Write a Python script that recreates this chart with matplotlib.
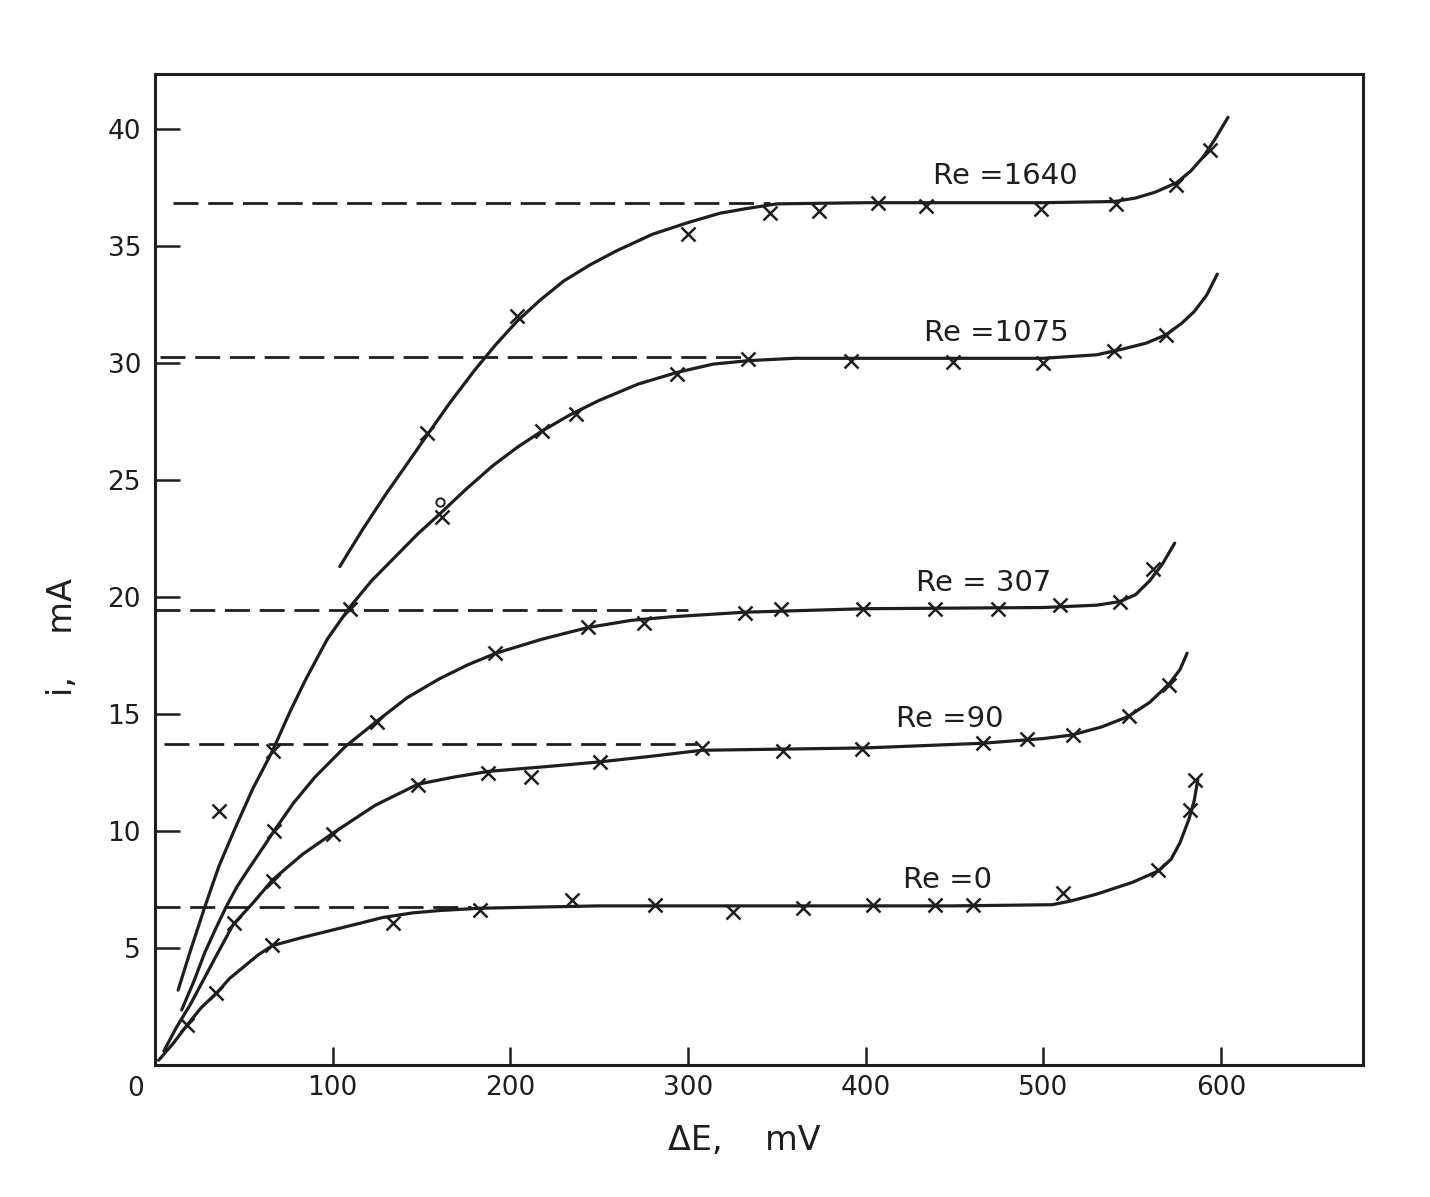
import matplotlib
matplotlib.use("Agg")
import matplotlib.pyplot as plt

# ---------------- data ----------------
re_labels = ["Re =1640", "Re =1075", "Re = 307", "Re =90", "Re =0"]

# limiting-current levels (dashed lines), mA, and their x extent (mV)
limit_levels = [36.85, 30.25, 19.45, 13.7, 6.75]
limit_x_start = [10, 3, 0, 5, 0]
limit_x_end = [346, 334, 300, 305, 178]

# hand-drawn smooth curves (x mV, i mA)
c1640_x = [104, 117, 130, 142, 153, 166, 180, 192, 204, 217, 230, 245, 260, 280, 300, 318, 333, 350,
           400, 450, 500, 540, 552, 563, 575, 583, 590, 597, 604]
c1640_y = [21.3, 22.9, 24.4, 25.7, 26.9, 28.3, 29.7, 30.8, 31.8, 32.7, 33.5, 34.2, 34.8, 35.5, 36.0, 36.4, 36.6, 36.8,
           36.85, 36.85, 36.85, 36.9, 37.05, 37.3, 37.7, 38.2, 38.8, 39.6, 40.5]

c1075_x = [13, 20, 28, 36, 45, 55, 66, 76, 85, 97, 110, 122, 135, 148, 161, 175, 190, 204, 218, 234, 250,
           272, 294, 314, 334, 360, 400, 500, 530, 545, 558, 569, 578, 585, 592, 598]
c1075_y = [3.2, 4.9, 6.75, 8.5, 10.1, 11.8, 13.4, 15.1, 16.5, 18.2, 19.6, 20.7, 21.7, 22.7, 23.6, 24.6, 25.6, 26.4, 27.1, 27.8, 28.4,
           29.1, 29.6, 29.95, 30.1, 30.2, 30.2, 30.2, 30.35, 30.6, 30.85, 31.2, 31.7, 32.2, 32.9, 33.8]

c307_x = [15, 22, 28, 34, 40, 46, 52, 60, 67, 78, 90, 107, 125, 142, 160, 176, 192, 218, 244, 268, 290, 332,
          400, 500, 530, 543, 552, 560, 567, 574]
c307_y = [2.35, 3.6, 4.8, 5.8, 6.75, 7.6, 8.3, 9.2, 10.0, 11.2, 12.3, 13.6, 14.7, 15.7, 16.5, 17.1, 17.6, 18.2, 18.7, 19.0, 19.15, 19.35,
          19.5, 19.55, 19.65, 19.8, 20.1, 20.7, 21.4, 22.3]

c90_x = [5, 12, 20, 27, 34, 44, 56, 66, 83, 100, 124, 148, 168, 188, 220, 250, 280, 308, 354, 400, 466, 500,
         516, 533, 548, 560, 571, 577, 581]
c90_y = [0.6, 1.6, 2.6, 3.6, 4.6, 6.0, 7.0, 7.9, 9.0, 9.9, 11.1, 12.0, 12.3, 12.55, 12.75, 12.95, 13.2, 13.45, 13.5, 13.55, 13.75, 13.95,
         14.1, 14.45, 14.9, 15.5, 16.3, 16.9, 17.6]

c0_x = [2, 10, 18, 26, 35, 42, 50, 58, 66, 83, 100, 115, 128, 145, 160, 183, 250, 350, 450, 505, 515, 530,
        550, 565, 572, 577, 582, 585, 587]
c0_y = [0.2, 0.9, 1.7, 2.45, 3.1, 3.7, 4.2, 4.7, 5.1, 5.45, 5.77, 6.05, 6.3, 6.5, 6.6, 6.7, 6.8, 6.8, 6.8, 6.85, 7.0, 7.3,
        7.8, 8.3, 8.8, 9.5, 10.5, 11.3, 12.2]

# measured points (x markers)
m1640_x = [36, 153, 204, 300, 346, 374, 407, 434, 499, 541, 575, 594]
m1640_y = [10.87, 27.0, 32.0, 35.5, 36.4, 36.5, 36.85, 36.7, 36.6, 36.8, 37.6, 39.1]

m1075_x = [66.4, 110, 161.5, 218, 237, 294, 334, 392, 449, 500, 540, 569]
m1075_y = [13.4, 19.5, 23.4, 27.1, 27.8, 29.55, 30.15, 30.1, 30.05, 30.0, 30.5, 31.2]

m307_x = [66.8, 125, 191.6, 244, 275.5, 332.3, 352.6, 398.6, 439, 474.6, 509.5, 543, 562]
m307_y = [10.0, 14.67, 17.6, 18.7, 18.9, 19.3, 19.5, 19.5, 19.5, 19.5, 19.65, 19.8, 21.2]

m90_x = [44.3, 66.4, 100.2, 148, 187.7, 211.5, 250.6, 308, 353.7, 398, 466, 491, 516.5, 548, 571]
m90_y = [6.05, 7.88, 9.87, 11.97, 12.48, 12.3, 12.95, 13.55, 13.4, 13.5, 13.76, 13.93, 14.1, 14.9, 16.26]

m0_x = [18.2, 34.6, 65.9, 134, 183, 235, 281.5, 325.5, 365, 404, 439, 460.5, 511, 564.7, 582.7, 585.5]
m0_y = [1.71, 3.09, 5.13, 6.08, 6.62, 7.05, 6.84, 6.54, 6.71, 6.84, 6.84, 6.84, 7.35, 8.33, 10.9, 12.18]

circle_x = [160.6]
circle_y = [24.07]

label_x = [478.5, 473.4, 466.7, 447.6, 446.0]
label_y = [38.0, 31.3, 20.6, 14.8, 7.9]

x_ticks = [100, 200, 300, 400, 500, 600]
y_ticks = [5, 10, 15, 20, 25, 30, 35, 40]

# ---------------- figure ----------------
INK = "#1e1e1e"
plt.rcParams["font.family"] = ["DejaVu Sans"]

fig = plt.figure(figsize=(14.30, 11.97), dpi=100)
ax = fig.add_axes([155 / 1430, 132 / 1197, (1363 - 155) / 1430, (1065 - 74) / 1197])
ax.set_xlim(0, 680)
ax.set_ylim(0, 42.35)

curves = [(c1640_x, c1640_y), (c1075_x, c1075_y), (c307_x, c307_y), (c90_x, c90_y), (c0_x, c0_y)]
marks = [(m1640_x, m1640_y), (m1075_x, m1075_y), (m307_x, m307_y), (m90_x, m90_y), (m0_x, m0_y)]

for lvl, xs, xe in zip(limit_levels, limit_x_start, limit_x_end):
    ax.plot([xs, xe], [lvl, lvl], color=INK, lw=2.0, linestyle=(0, (9, 3.5)), solid_capstyle="butt")

for (cx, cy) in curves:
    ax.plot(cx, cy, color=INK, lw=2.3, solid_capstyle="round", solid_joinstyle="round")

for (mx, my) in marks:
    ax.plot(mx, my, linestyle="none", marker="x", ms=10, mew=1.8, color=INK)

ax.plot(circle_x, circle_y, linestyle="none", marker="o", ms=6, mfc="white", mec=INK, mew=1.4)

for txt, lx, ly in zip(re_labels, label_x, label_y):
    ax.text(lx, ly, txt, fontsize=21, color=INK, ha="center", va="center")

# axes styling
for s in ax.spines.values():
    s.set_linewidth(2.2)
    s.set_color(INK)

ax.set_xticks(x_ticks)
ax.set_xticklabels([str(v) for v in x_ticks])
ax.set_yticks(y_ticks)
ax.set_yticklabels([str(v) for v in y_ticks])
ax.tick_params(axis="x", direction="in", length=13, width=1.8, color=INK, labelsize=19, pad=7, labelcolor=INK)
ax.tick_params(axis="y", direction="in", length=18, width=1.8, color=INK, labelsize=19, pad=10, labelcolor=INK)

ax.annotate("0", xy=(0, 0), xycoords="data", xytext=(-14, -17), textcoords="offset points",
            ha="center", va="center", fontsize=19, color=INK)

ax.set_xlabel("ΔE,    mV", fontsize=24, color=INK)
ax.xaxis.set_label_coords((744 - 155) / 1208, -(1140 - 1065) / 991)
ax.xaxis.label.set_va("center")
ax.set_ylabel("i,    mA", fontsize=24, color=INK)
ax.yaxis.set_label_coords(-(155 - 62) / 1208, (1065 - 637) / 991)
ax.yaxis.label.set_va("center")

fig.savefig("out.png", dpi=100, facecolor="white")
